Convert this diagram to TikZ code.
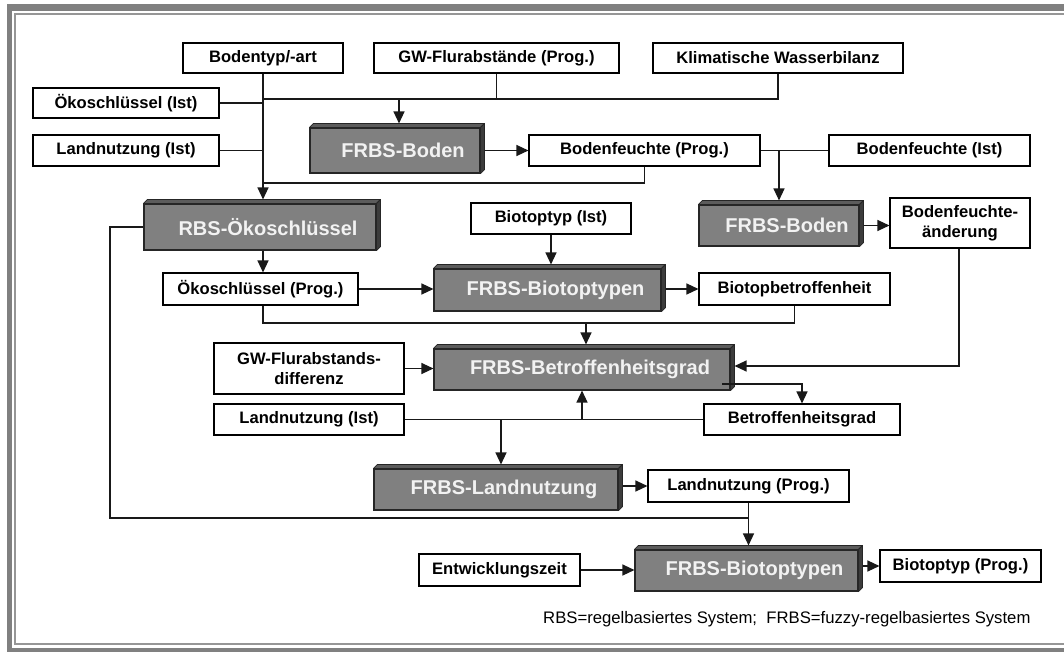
\documentclass[tikz,border=0pt]{standalone}
\usepackage{fontspec}
\setmainfont{Liberation Sans}
\usetikzlibrary{arrows.meta,calc}
\definecolor{boxgray}{RGB}{128,128,128}
\definecolor{bevtopc}{RGB}{92,92,92}
\definecolor{bevsidec}{RGB}{60,60,60}
\definecolor{framegray}{RGB}{128,128,128}
\definecolor{framelinec}{RGB}{150,150,150}
\definecolor{systext}{RGB}{242,242,242}
\tikzset{
  inbox/.style={draw=black, line width=1.1pt, fill=white, inner sep=0pt, align=center,
    font=\fontsize{16.6}{19.5}\selectfont\bfseries},
  sysbox/.style={draw=black!85, line width=1.1pt, fill=boxgray, text=systext, inner sep=0pt,
    font=\fontsize{20}{24}\selectfont\bfseries},
  bevtop/.style={fill=bevtopc, draw=black!85, line width=0.8pt, line join=round},
  bevside/.style={fill=bevsidec, draw=black!85, line width=0.8pt, line join=round},
  conn/.style={line width=1.25pt, draw=black!90},
  arr/.style={conn, -{Triangle[length=12pt,width=11pt]}},
}
\newcommand{\inode}[6]{\node[inbox, minimum width=#4pt, minimum height=#5pt] (#1) at (#2,#3) {#6};}
\newcommand{\sysnode}[6]{%
  \node[sysbox, minimum width=#4pt, minimum height=#5pt] (#1) at (#2,#3) {\hspace*{16pt}#6};
  \filldraw[bevtop] (#1.north west) -- ++(4pt,4pt) -- ([shift={(4pt,4pt)}]#1.north east) -- (#1.north east) -- cycle;
  \filldraw[bevside] (#1.north east) -- ++(4pt,4pt) -- ([shift={(4pt,4pt)}]#1.south east) -- (#1.south east) -- cycle;
  \coordinate (#1-t) at ([yshift=4pt]#1.north);
  \coordinate (#1-r) at ([xshift=4pt]#1.east);
}
\begin{document}
\begin{tikzpicture}[x=1pt,y=-1pt]
\useasboundingbox (0,0) rectangle (1064,652);
% frame
\fill[framegray] (7,4) rectangle (1064,11);
\fill[framegray] (7,4) rectangle (12,652);
\fill[framegray] (7,648) rectangle (1064,652);
\draw[framelinec, line width=2pt] (1064,14) -- (15,14) -- (15,644) -- (1064,644);

% input / output boxes
\inode{bod}{263}{58}{160}{30}{Bodentyp/-art}
\inode{gwf}{496.5}{58}{245}{30}{GW-Flurabstände (Prog.)}
\inode{kwb}{778}{58}{250}{30}{Klimatische Wasserbilanz}
\inode{oki}{126}{103}{186}{30}{Ökoschlüssel (Ist)}
\inode{lni1}{126}{150.5}{186}{31}{Landnutzung (Ist)}
\inode{bfp}{644.5}{150.5}{231}{31}{Bodenfeuchte (Prog.)}
\inode{bfi}{929.5}{150.5}{201}{31}{Bodenfeuchte (Ist)}
\inode{bti}{551}{218.5}{160}{31}{Biotoptyp (Ist)}
\inode{bfa}{960}{223}{140}{50}{Bodenfeuchte-\\änderung}
\inode{okp}{260.5}{289}{195}{32}{Ökoschlüssel (Prog.)}
\inode{bbt}{794.5}{289}{191}{32}{Biotopbetroffenheit}
\inode{gwd}{309}{368.5}{190}{51}{GW-Flurabstands-\\differenz}
\inode{lni2}{309}{419.5}{190}{31}{Landnutzung (Ist)}
\inode{btg}{802}{419.5}{196}{31}{Betroffenheitsgrad}
\inode{lnp}{748.5}{486}{201}{32}{Landnutzung (Prog.)}
\inode{ewz}{499.5}{570}{161}{32}{Entwicklungszeit}
\inode{btp}{960.5}{566}{161}{32}{Biotoptyp (Prog.)}

% rule systems
\sysnode{fbA}{395}{150.5}{170}{45}{FRBS-Boden}
\sysnode{rbs}{260}{227}{232}{46}{RBS-Ökoschlüssel}
\sysnode{fbB}{779}{225.5}{160}{41}{FRBS-Boden}
\sysnode{fbtA}{547.5}{290}{227}{42}{FRBS-Biotoptypen}
\sysnode{fbg}{582}{369.5}{296}{41}{FRBS-Betroffenheitsgrad}
\sysnode{fln}{496}{489.5}{244}{41}{FRBS-Landnutzung}
\sysnode{fbtB}{746.5}{570.5}{223}{41}{FRBS-Biotoptypen}

% helper coordinates
\coordinate (bus1) at (263,99);
\coordinate (bus2) at (263,183);
\coordinate (bus3) at (263,323);
\coordinate (a1) at (399,99);
\coordinate (a15) at (586,323);
\coordinate (a17) at (501,419.5);
\coordinate (lft) at (110,518);
\coordinate (g1) at (722,384);
\coordinate (r9) at (959,366);

% connectors
\draw[arr] (bod.south) -- (bod.south |- rbs-t);
\draw[conn] (oki.east) -- (oki.east -| bod.south);
\draw[conn] (lni1.east) -- (lni1.east -| bod.south);
\draw[conn] (bus1) -- (bus1 -| kwb.south) -- (kwb.south);
\draw[conn] (gwf.south) -- (gwf.south |- bus1);
\draw[arr] (a1) -- (a1 |- fbA-t);
\draw[arr] (fbA-r) -- (bfp.west);
\draw[conn] (bfp.south) -- (bfp.south |- bus2) -- (bus2);
\draw[conn] (bfp.east) -- (bfi.west);
\draw[arr] (bfp.east -| fbB.north) -- (fbB-t);
\draw[arr] (fbB-r) -- (fbB-r -| bfa.west);
\draw[arr] (bfa.south -| r9) -- (r9) -- (r9 -| fbg-r);
\draw[arr] (rbs.west) -| (lft) -- (lft -| lnp.south) -- (lnp.south |- fbtB-t);
\draw[conn] (lnp.south) -- (lnp.south |- lft);
\draw[arr] (bod.south |- rbs.south) -- (bod.south |- okp.north);
\draw[arr] (bti.south) -- (bti.south |- fbtA-t);
\draw[arr] (okp.east) -- (okp.east -| fbtA.west);
\draw[arr] (okp.east -| fbtA-r) -- (bbt.west);
\draw[conn] (bod.south |- okp.south) -- (bus3) -- (bus3 -| bbt.south) -- (bbt.south);
\draw[arr] (a15) -- (a15 |- fbg-t);
\draw[arr] (gwd.east) -- (gwd.east -| fbg.west);
\draw[conn] (lni2.east) -- (btg.west);
\draw[arr] (lni2.east -| fbg.south) -- (fbg.south);
\draw[arr] (a17) -- (a17 |- fln-t);
\draw[arr] (g1) -| (btg.north);
\draw[arr] (lnp.west -| fln-r) -- (lnp.west);
\draw[arr] (ewz.east) -- (ewz.east -| fbtB.west);
\draw[arr] (btp.west -| fbtB-r) -- (btp.west);

% legend
\node[anchor=west, inner sep=0pt, font=\fontsize{16.7}{19}\selectfont] (leg) at (543,619)
  {RBS=regelbasiertes System;\ \ FRBS=fuzzy-regelbasiertes System};
\end{tikzpicture}
\end{document}
